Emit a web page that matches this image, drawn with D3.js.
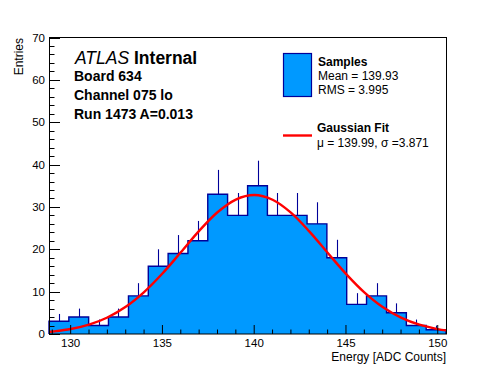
<!DOCTYPE html>
<html>
<head>
<meta charset="utf-8">
<script src="https://cdn.jsdelivr.net/npm/d3@7"></script>
<style>
  html, body { margin: 0; padding: 0; background: #fff; }
  svg { display: block; }
  text { font-family: "Liberation Sans", Arial, Helvetica, sans-serif; fill: #000; }
</style>
</head>
<body>
<svg id="chart" width="496" height="372"></svg>
<script>
// ---------- data ----------
const binEdges = [128.82,129.90,130.98,132.06,133.15,134.23,135.31,136.39,137.47,138.55,139.64,
                  140.72,141.80,142.88,143.96,145.04,146.12,147.21,148.29,149.37,150.45];
const counts   = [3,4,2,4,9,16,19,22,33,28,35,28,28,26,18,7,9,5,2,1];
const fitX     = [128.82,129,130,131,132,133,134,135,136,137,138,139,140,141,142,143,144,145,146,147,148,149,150,150.45];
const fitY     = [0.50,0.58,1.17,2.21,3.90,6.43,9.91,14.29,19.28,24.34,28.74,31.74,32.80,31.70,28.66,24.24,19.18,14.20,9.83,6.36,3.86,2.19,1.16,0.85];
const xMajorTicks = [130,135,140,145,150];
const xMinorTicks = [129,131,132,133,134,136,137,138,139,141,142,143,144,146,147,148,149];
const yMajorTicks = [0,10,20,30,40,50,60,70];
const yMinorTicks = [2,4,6,8,12,14,16,18,22,24,26,28,32,34,36,38,42,44,46,48,52,54,56,58,62,64,66,68];
const infoLines = ["Board 634","Channel 075 lo","Run 1473 A=0.013"];
const legendSamples = ["Samples","Mean = 139.93","RMS = 3.995"];
const legendFit = ["Gaussian Fit","\u03bc = 139.99, \u03c3 =3.871"];

// ---------- layout ----------
const L = 49, R = 446, T = 37.5, B = 334;
const svg = d3.select("#chart");
const x = d3.scaleLinear().domain([binEdges[0], binEdges[binEdges.length-1]]).range([L, R]);
const y = d3.scaleLinear().domain([0, 70]).range([B, T]);

const FILL = "#0099ff", LINE = "#000099", RED = "#ff0000";

const bins = counts.map((c, i) => ({x0: binEdges[i], x1: binEdges[i+1], c}));

// step outline points
const pts = [[x(bins[0].x0), y(0)]];
bins.forEach(d => { pts.push([x(d.x0), y(d.c)]); pts.push([x(d.x1), y(d.c)]); });
pts.push([x(bins[bins.length-1].x1), y(0)]);

// filled histogram (single shape, no seams)
svg.append("path").attr("d", d3.line()(pts) + "Z")
  .attr("fill", FILL).attr("stroke", "none");
// outline
svg.append("path").attr("d", d3.line()(pts))
  .attr("fill", "none").attr("stroke", LINE).attr("stroke-width", 1.4);

// error bars (upward)
svg.append("g").selectAll("line").data(bins).join("line")
  .attr("x1", d => Math.round(x((d.x0 + d.x1) / 2)) + 0.5)
  .attr("x2", d => Math.round(x((d.x0 + d.x1) / 2)) + 0.5)
  .attr("y1", d => y(d.c)).attr("y2", d => y(d.c + Math.sqrt(d.c)))
  .attr("stroke", LINE).attr("stroke-width", 1.1);

// fit curve
const fitPts = fitX.map((v, i) => [v, fitY[i]]);
svg.append("path")
  .attr("d", d3.line().x(d => x(d[0])).y(d => y(d[1])).curve(d3.curveCatmullRom)(fitPts))
  .attr("fill", "none").attr("stroke", RED).attr("stroke-width", 2.4);

// frame
svg.append("rect").attr("x", L + 0.5).attr("y", T).attr("width", R - L).attr("height", B - T)
  .attr("fill", "none").attr("stroke", "#000").attr("stroke-width", 1);

// x ticks (inside)
const g = svg.append("g").attr("stroke", "#000").attr("stroke-width", 1);
xMajorTicks.forEach(v => g.append("line").attr("x1", x(v)).attr("x2", x(v)).attr("y1", B).attr("y2", B - 9));
xMinorTicks.forEach(v => g.append("line").attr("x1", x(v)).attr("x2", x(v)).attr("y1", B).attr("y2", B - 4.5));
// y ticks (inside)
yMajorTicks.forEach(v => g.append("line").attr("x1", L).attr("x2", L + 11).attr("y1", Math.round(y(v)) + 0.5).attr("y2", Math.round(y(v)) + 0.5));
yMinorTicks.forEach(v => g.append("line").attr("x1", L).attr("x2", L + 5.5).attr("y1", Math.round(y(v)) + 0.5).attr("y2", Math.round(y(v)) + 0.5));

// tick labels
svg.append("g").selectAll("text").data(xMajorTicks).join("text")
  .attr("x", d => x(d)).attr("y", 346.5).attr("text-anchor", "middle")
  .style("font-size", "11.5px").text(d => d);
svg.append("g").selectAll("text").data(yMajorTicks).join("text")
  .attr("x", 45).attr("y", d => y(d) + 4).attr("text-anchor", "end")
  .style("font-size", "11.5px").text(d => d);

// axis titles
svg.append("text").attr("x", R).attr("y", 361).attr("text-anchor", "end")
  .style("font-size", "12px").text("Energy [ADC Counts]");
svg.append("text").attr("transform", "translate(23,38) rotate(-90)").attr("text-anchor", "end")
  .style("font-size", "12px").text("Entries");

// ATLAS label
const at = svg.append("text").attr("x", 75).attr("y", 64).style("font-size", "17.5px");
at.append("tspan").style("font-style", "italic").text("ATLAS");
at.append("tspan").style("font-weight", "bold").text(" Internal");
infoLines.forEach((s, i) => {
  svg.append("text").attr("x", 74).attr("y", 81 + i * 19).style("font-size", "14px")
    .style("font-weight", "bold").text(s);
});

// legend
svg.append("rect").attr("x", 283.5).attr("y", 53.5).attr("width", 28).attr("height", 43)
  .attr("fill", FILL).attr("stroke", LINE).attr("stroke-width", 1.2);
legendSamples.forEach((s, i) => {
  svg.append("text").attr("x", 318).attr("y", 66 + i * 14).style("font-size", "12px")
    .style("font-weight", i === 0 ? "bold" : "normal").text(s);
});
svg.append("line").attr("x1", 283).attr("x2", 312).attr("y1", 135.5).attr("y2", 135.5)
  .attr("stroke", RED).attr("stroke-width", 2.4);
legendFit.forEach((s, i) => {
  svg.append("text").attr("x", 317).attr("y", 132 + i * 14.5).style("font-size", "12px")
    .style("font-weight", i === 0 ? "bold" : "normal").text(s);
});
</script>
</body>
</html>
